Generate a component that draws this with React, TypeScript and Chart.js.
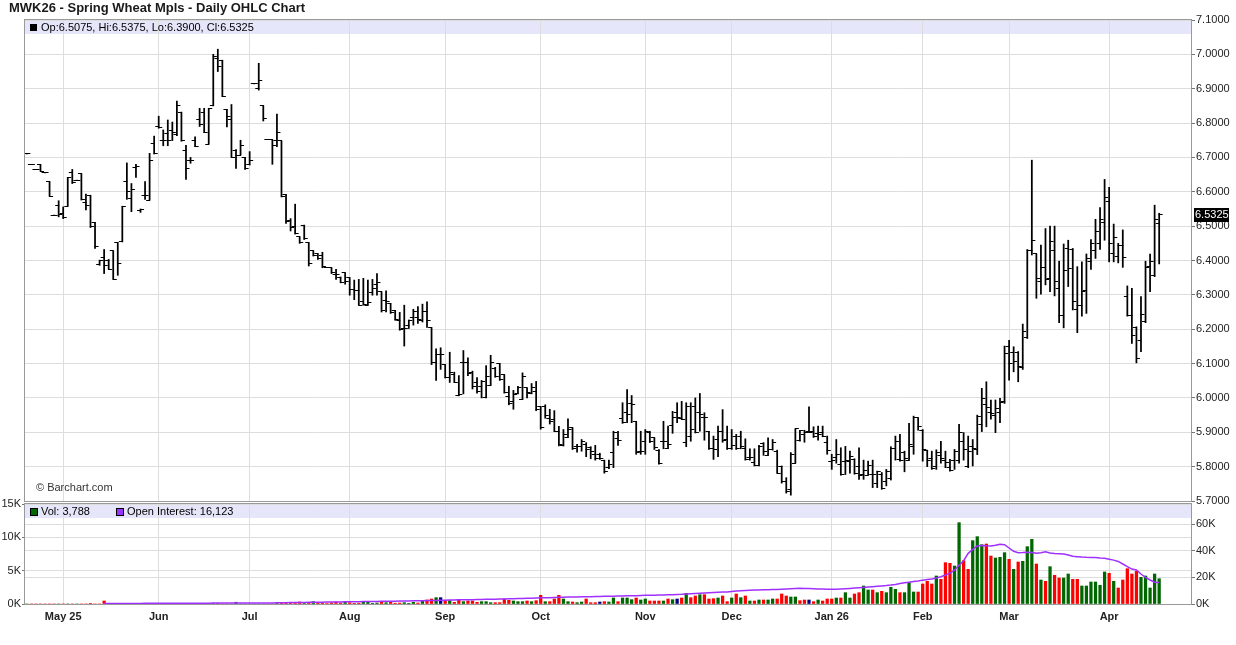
import React, { useEffect, useRef } from 'react';
import { Chart, registerables } from 'chart.js';

Chart.register(...registerables);

const FONT = '"Liberation Sans", Arial, Helvetica, sans-serif';
const TITLE = 'MWK26 - Spring Wheat Mpls - Daily OHLC Chart';

// x = trading-day index; month gridlines / labels
const monthIdx = [8, 29, 49, 71, 92, 113, 136, 155, 177, 197, 216, 238];
const monthLabels = ['May 25', 'Jun', 'Jul', 'Aug', 'Sep', 'Oct', 'Nov', 'Dec', 'Jan 26', 'Feb', 'Mar', 'Apr'];

const priceTickValues = [5.7, 5.8, 5.9, 6.0, 6.1, 6.2, 6.3, 6.4, 6.5, 6.6, 6.7, 6.8, 6.9, 7.0, 7.1];
const volTickValues = [0, 5000, 10000, 15000];
const oiTickValues = [0, 20000, 40000, 60000];

const opens = [
  6.71, 6.68, 6.665, 6.68, 6.655, 6.63, 6.532, 6.56, 6.537, 6.558,
  6.655, 6.634, 6.653, 6.568, 6.59, 6.51, 6.388, 6.41, 6.40, 6.428,
  6.452, 6.454, 6.63, 6.58, 6.67, 6.545, 6.59, 6.576, 6.74, 6.79,
  6.748, 6.77, 6.777, 6.767, 6.832, 6.72, 6.692, 6.748, 6.81, 6.83,
  6.739, 6.85, 6.988, 6.983, 6.84, 6.81, 6.72, 6.707, 6.70, 6.678,
  6.914, 6.90, 6.851, 6.752, 6.752, 6.75, 6.748, 6.592, 6.517, 6.50,
  6.469, 6.503, 6.452, 6.428, 6.42, 6.415, 6.38, 6.379, 6.36, 6.35,
  6.364, 6.35, 6.316, 6.312, 6.28, 6.27, 6.308, 6.33, 6.309, 6.284,
  6.275, 6.255, 6.224, 6.202, 6.21, 6.234, 6.234, 6.224, 6.253, 6.205,
  6.104, 6.127, 6.097, 6.06, 6.068, 6.006, 6.104, 6.104, 6.075, 6.045,
  6.034, 6.0, 6.036, 6.087, 6.1, 6.067, 6.005, 5.99, 6.012, 5.995,
  6.029, 6.014, 6.019, 5.975, 5.975, 5.941, 5.937, 5.902, 5.862, 5.884,
  5.913, 5.86, 5.86, 5.865, 5.855, 5.836, 5.836, 5.819, 5.797, 5.84,
  5.881, 5.939, 5.958, 5.985, 5.932, 5.845, 5.872, 5.90, 5.884, 5.848,
  5.874, 5.853, 5.92, 5.957, 5.939, 5.871, 5.889, 5.974, 5.957, 5.942,
  5.903, 5.852, 5.88, 5.903, 5.879, 5.852, 5.889, 5.889, 5.852, 5.826,
  5.811, 5.804, 5.868, 5.833, 5.85, 5.845, 5.80, 5.758, 5.734, 5.81,
  5.877, 5.894, 5.903, 5.903, 5.897, 5.90, 5.87, 5.816, 5.826, 5.807,
  5.816, 5.816, 5.821, 5.80, 5.778, 5.775, 5.778, 5.75, 5.778, 5.756,
  5.765, 5.852, 5.82, 5.84, 5.819, 5.86, 5.942, 5.906, 5.848, 5.823,
  5.80, 5.833, 5.819, 5.797, 5.819, 5.819, 5.874, 5.80, 5.86, 5.85,
  5.924, 5.982, 5.957, 5.95, 5.957, 5.99, 6.149, 6.132, 6.132, 6.089,
  6.176, 6.43, 6.419, 6.338, 6.38, 6.348, 6.43, 6.319, 6.241, 6.435,
  6.432, 6.258, 6.27, 6.312, 6.396, 6.43, 6.45, 6.51, 6.571, 6.419,
  6.413, 6.445, 6.295, 6.241, 6.205, 6.168, 6.222, 6.382, 6.355, 6.5075,
];

const highs = [
  6.71, 6.68, 6.665, 6.68, 6.655, 6.63, 6.532, 6.574, 6.556, 6.642,
  6.665, 6.634, 6.653, 6.593, 6.59, 6.511, 6.401, 6.432, 6.403, 6.428,
  6.452, 6.558, 6.684, 6.624, 6.68, 6.55, 6.63, 6.712, 6.762, 6.82,
  6.78, 6.809, 6.803, 6.864, 6.832, 6.735, 6.70, 6.76, 6.843, 6.843,
  6.843, 7.0, 7.015, 6.983, 6.84, 6.854, 6.723, 6.75, 6.70, 6.717,
  6.914, 6.974, 6.851, 6.752, 6.752, 6.826, 6.748, 6.592, 6.522, 6.564,
  6.469, 6.503, 6.452, 6.428, 6.42, 6.424, 6.38, 6.379, 6.374, 6.352,
  6.364, 6.35, 6.343, 6.345, 6.348, 6.343, 6.345, 6.362, 6.309, 6.312,
  6.275, 6.255, 6.249, 6.27, 6.227, 6.258, 6.266, 6.273, 6.28, 6.205,
  6.143, 6.146, 6.097, 6.133, 6.075, 6.065, 6.138, 6.117, 6.078, 6.059,
  6.051, 6.094, 6.124, 6.089, 6.1, 6.067, 6.034, 6.022, 6.034, 6.073,
  6.029, 6.042, 6.048, 5.975, 5.98, 5.967, 5.963, 5.917, 5.908, 5.939,
  5.913, 5.865, 5.879, 5.87, 5.858, 5.862, 5.839, 5.819, 5.819, 5.903,
  5.903, 5.986, 6.024, 6.007, 5.932, 5.903, 5.908, 5.903, 5.884, 5.85,
  5.932, 5.918, 5.961, 5.986, 5.99, 5.986, 5.986, 6.0, 6.013, 5.957,
  5.903, 5.889, 5.918, 5.966, 5.918, 5.908, 5.894, 5.903, 5.881, 5.852,
  5.852, 5.862, 5.87, 5.884, 5.879, 5.848, 5.802, 5.768, 5.841, 5.91,
  5.906, 5.906, 5.974, 5.916, 5.918, 5.918, 5.889, 5.836, 5.879, 5.855,
  5.859, 5.845, 5.823, 5.855, 5.819, 5.816, 5.819, 5.787, 5.783, 5.792,
  5.858, 5.889, 5.894, 5.845, 5.926, 5.947, 5.942, 5.908, 5.848, 5.845,
  5.849, 5.874, 5.845, 5.821, 5.85, 5.923, 5.899, 5.889, 5.879, 5.95,
  6.028, 6.047, 5.994, 5.994, 5.999, 6.151, 6.168, 6.149, 6.135, 6.215,
  6.432, 6.692, 6.419, 6.445, 6.493, 6.5, 6.5, 6.398, 6.448, 6.459,
  6.435, 6.382, 6.396, 6.419, 6.461, 6.52, 6.554, 6.636, 6.613, 6.506,
  6.45, 6.489, 6.326, 6.319, 6.207, 6.295, 6.398, 6.419, 6.561, 6.5375,
];

const lows = [
  6.71, 6.68, 6.665, 6.66, 6.655, 6.587, 6.532, 6.527, 6.522, 6.558,
  6.624, 6.634, 6.576, 6.547, 6.496, 6.435, 6.386, 6.362, 6.374, 6.345,
  6.357, 6.454, 6.578, 6.542, 6.642, 6.54, 6.578, 6.576, 6.71, 6.785,
  6.734, 6.734, 6.749, 6.763, 6.747, 6.636, 6.683, 6.731, 6.79, 6.772,
  6.739, 6.85, 6.95, 6.877, 6.789, 6.70, 6.668, 6.707, 6.665, 6.678,
  6.914, 6.896, 6.806, 6.752, 6.68, 6.731, 6.585, 6.508, 6.486, 6.477,
  6.45, 6.461, 6.384, 6.413, 6.403, 6.379, 6.38, 6.362, 6.345, 6.335,
  6.331, 6.299, 6.286, 6.27, 6.27, 6.27, 6.299, 6.299, 6.25, 6.25,
  6.246, 6.226, 6.197, 6.151, 6.202, 6.212, 6.217, 6.221, 6.205, 6.097,
  6.051, 6.083, 6.058, 6.045, 6.045, 6.006, 6.012, 6.065, 6.026, 6.014,
  6.0, 6.0, 6.036, 6.06, 6.051, 6.014, 5.98, 5.967, 6.012, 5.995,
  6.0, 6.012, 5.963, 5.909, 5.941, 5.924, 5.902, 5.86, 5.86, 5.884,
  5.85, 5.842, 5.845, 5.829, 5.823, 5.819, 5.821, 5.781, 5.794, 5.797,
  5.862, 5.926, 5.928, 5.928, 5.836, 5.836, 5.836, 5.87, 5.85, 5.807,
  5.852, 5.852, 5.897, 5.928, 5.937, 5.858, 5.874, 5.898, 5.903, 5.877,
  5.85, 5.821, 5.829, 5.871, 5.85, 5.85, 5.85, 5.852, 5.819, 5.819,
  5.802, 5.802, 5.833, 5.833, 5.848, 5.781, 5.752, 5.723, 5.717, 5.81,
  5.874, 5.871, 5.899, 5.885, 5.877, 5.887, 5.836, 5.792, 5.81, 5.775,
  5.777, 5.781, 5.778, 5.763, 5.763, 5.775, 5.739, 5.739, 5.734, 5.744,
  5.761, 5.819, 5.816, 5.785, 5.819, 5.836, 5.906, 5.816, 5.80, 5.792,
  5.792, 5.81, 5.797, 5.787, 5.792, 5.81, 5.819, 5.797, 5.802, 5.835,
  5.902, 5.916, 5.938, 5.899, 5.928, 5.984, 6.052, 6.076, 6.047, 6.083,
  6.173, 6.416, 6.29, 6.302, 6.329, 6.309, 6.297, 6.219, 6.204, 6.324,
  6.256, 6.19, 6.238, 6.246, 6.374, 6.406, 6.432, 6.459, 6.396, 6.396,
  6.393, 6.38, 6.238, 6.159, 6.102, 6.135, 6.219, 6.309, 6.353, 6.39,
];

const closes = [
  6.71, 6.68, 6.665, 6.66, 6.655, 6.587, 6.532, 6.535, 6.525, 6.642,
  6.626, 6.634, 6.578, 6.559, 6.498, 6.44, 6.40, 6.386, 6.375, 6.345,
  6.39, 6.558, 6.60, 6.607, 6.675, 6.547, 6.588, 6.692, 6.71, 6.787,
  6.748, 6.75, 6.772, 6.85, 6.75, 6.669, 6.692, 6.733, 6.795, 6.772,
  6.843, 6.995, 6.966, 6.877, 6.82, 6.70, 6.705, 6.734, 6.668, 6.69,
  6.914, 6.925, 6.813, 6.752, 6.736, 6.774, 6.585, 6.513, 6.496, 6.48,
  6.452, 6.464, 6.391, 6.416, 6.406, 6.383, 6.38, 6.364, 6.359, 6.337,
  6.338, 6.316, 6.312, 6.27, 6.272, 6.277, 6.318, 6.335, 6.255, 6.282,
  6.248, 6.228, 6.20, 6.202, 6.226, 6.253, 6.229, 6.253, 6.226, 6.104,
  6.127, 6.127, 6.06, 6.075, 6.045, 6.011, 6.104, 6.071, 6.034, 6.019,
  6.048, 6.063, 6.104, 6.063, 6.053, 6.016, 5.983, 6.009, 6.03, 6.063,
  6.016, 6.029, 5.966, 5.915, 5.948, 5.931, 5.902, 5.863, 5.894, 5.908,
  5.852, 5.858, 5.874, 5.85, 5.845, 5.823, 5.823, 5.787, 5.807, 5.90,
  5.877, 5.928, 5.952, 5.981, 5.84, 5.845, 5.903, 5.872, 5.855, 5.81,
  5.874, 5.865, 5.942, 5.942, 5.937, 5.974, 5.908, 5.90, 5.952, 5.942,
  5.852, 5.85, 5.903, 5.877, 5.852, 5.862, 5.852, 5.86, 5.821, 5.826,
  5.804, 5.86, 5.845, 5.85, 5.87, 5.781, 5.756, 5.729, 5.836, 5.91,
  5.905, 5.90, 5.90, 5.888, 5.895, 5.889, 5.847, 5.819, 5.835, 5.778,
  5.819, 5.83, 5.781, 5.775, 5.79, 5.804, 5.778, 5.785, 5.736, 5.787,
  5.852, 5.874, 5.818, 5.825, 5.865, 5.942, 5.916, 5.85, 5.819, 5.794,
  5.84, 5.825, 5.813, 5.79, 5.843, 5.90, 5.85, 5.845, 5.852, 5.945,
  5.999, 5.973, 5.955, 5.97, 5.986, 6.128, 6.099, 6.105, 6.091, 6.193,
  6.43, 6.459, 6.348, 6.38, 6.345, 6.455, 6.338, 6.241, 6.372, 6.378,
  6.28, 6.27, 6.311, 6.406, 6.45, 6.484, 6.52, 6.584, 6.45, 6.467,
  6.445, 6.409, 6.241, 6.183, 6.115, 6.244, 6.38, 6.396, 6.518, 6.5325,
];

const volumes = [
  0, 0, 0, 0, 0, 0, 0, 0, 0, 0,
  0, 0, 0, 0, 60, 0, 0, 450, 80, 0,
  0, 0, 100, 80, 0, 0, 70, 0, 90, 0,
  70, 0, 0, 0, 0, 0, 0, 0, 80, 0,
  0, 90, 60, 0, 0, 0, 260, 0, 0, 0,
  0, 0, 0, 0, 0, 60, 150, 100, 220, 100,
  300, 60, 150, 350, 120, 200, 80, 180, 300, 150,
  320, 200, 100, 120, 250, 300, 100, 150, 250, 200,
  300, 120, 150, 200, 100, 250, 150, 400, 600, 750,
  950, 950, 500, 500, 250, 650, 350, 450, 450, 250,
  350, 350, 200, 200, 200, 750, 550, 450, 350, 350,
  450, 350, 500, 1300, 350, 350, 750, 1300, 750, 350,
  300, 200, 300, 750, 200, 200, 300, 350, 300, 900,
  350, 900, 900, 650, 900, 600, 750, 450, 450, 450,
  450, 750, 650, 750, 900, 1600, 950, 1200, 1400, 1400,
  750, 800, 900, 1200, 350, 900, 1500, 950, 1200, 450,
  450, 600, 600, 600, 750, 750, 1500, 1200, 1050, 1050,
  500, 600, 600, 350, 600, 450, 750, 750, 900, 900,
  1700, 900, 1500, 1700, 2700, 2100, 2100, 1700, 1900, 1700,
  2500, 2200, 1700, 1700, 3200, 1800, 1800, 3000, 3400, 3000,
  4200, 3700, 6200, 6100, 5700, 12200, 6500, 5200, 9500, 10100,
  8900, 9000, 7200, 6900, 7000, 7700, 6700, 5200, 6300, 6400,
  8600, 9700, 6000, 3600, 3400, 5600, 4300, 3900, 3900, 4500,
  3700, 3700, 2700, 2700, 3300, 3300, 2800, 4800, 4600, 3400,
  2400, 3600, 5300, 4500, 4900, 4000, 4200, 2400, 4500, 3788,
];

const openInterest = [
  null, null, null, null, null, null, null, null, null, null,
  null, null, null, null, null, null, null, 300, 320, 330,
  340, 360, 400, 430, 440, 450, 480, 490, 520, 530,
  550, 560, 560, 570, 580, 590, 590, 600, 630, 640,
  650, 680, 700, 700, 710, 720, 760, 770, 780, 790,
  800, 810, 820, 830, 840, 860, 920, 980, 1050, 1100,
  1160, 1190, 1240, 1300, 1340, 1380, 1410, 1450, 1520, 1570,
  1630, 1690, 1720, 1760, 1800, 1850, 1880, 1920, 1980, 2030,
  2100, 2140, 2200, 2260, 2310, 2380, 2440, 2500, 2560, 2620,
  2700, 2800, 2900, 3000, 3050, 3120, 3180, 3230, 3280, 3330,
  3400, 3480, 3550, 3620, 3700, 3780, 3880, 3980, 4080, 4180,
  4280, 4380, 4480, 4650, 4720, 4780, 4880, 5020, 5120, 5180,
  5230, 5280, 5380, 5480, 5530, 5580, 5630, 5720, 5780, 5880,
  5930, 6030, 6130, 6180, 6280, 6380, 6480, 6580, 6630, 6680,
  6780, 6880, 6980, 7130, 7280, 7530, 7680, 7880, 8080, 8280,
  8430, 8580, 8730, 8930, 9030, 9380, 9680, 9930, 10180, 10330,
  10430, 10530, 10630, 10730, 10830, 10930, 11080, 11280, 11430, 11580,
  11750, 11650, 11550, 11400, 11300, 11200, 11100, 11050, 11150, 11300,
  11500, 11700, 11950, 12200, 12450, 12700, 12950, 13250, 13500, 13800,
  14200, 14700, 15300, 15900, 16400, 16900, 17300, 17900, 18400, 18750,
  19500, 20500, 21700, 23200, 25400, 29000, 32500, 38000, 41000, 43500,
  43800, 43600, 43500, 44000, 44800, 44500, 42000, 39500, 38500, 38600,
  38800, 38700, 38000, 38500, 39200, 38200, 37900, 37700, 37500, 36800,
  35800, 35500, 35200, 35000, 34900, 34800, 34500, 34300, 33600, 32900,
  31900, 30000, 28000, 26200, 25500, 22500, 20000, 18000, 16300, 16123,
];

const X_MIN = -0.4;
const X_MAX = 256;

function makeTick(side: 'left' | 'right') {
  const c = document.createElement('canvas');
  c.width = 9;
  c.height = 1;
  const g = c.getContext('2d')!;
  g.fillStyle = '#000';
  if (side === 'left') g.fillRect(1, 0, 4, 1);
  else g.fillRect(4, 0, 4, 1);
  return c;
}

function xScale(showLabels: boolean, height: number) {
  return {
    type: 'linear',
    min: X_MIN,
    max: X_MAX,
    offset: false,
    afterBuildTicks: (s: any) => {
      s.ticks = monthIdx.map((v) => ({ value: v }));
    },
    ticks: {
      display: showLabels,
      autoSkip: false,
      maxRotation: 0,
      padding: 6,
      color: '#222',
      font: { family: FONT, size: 11, weight: 'bold' },
      callback: (v: any) => {
        const k = monthIdx.indexOf(Number(v));
        return k >= 0 ? monthLabels[k] : '';
      },
    },
    grid: { color: '#dddddd', drawTicks: false, offset: false },
    border: { display: false },
    afterFit: (s: any) => {
      s.height = height;
    },
  };
}

export default function App() {
  const mainRef = useRef<HTMLCanvasElement>(null);
  const volRef = useRef<HTMLCanvasElement>(null);

  useEffect(() => {
    Chart.defaults.font.family = FONT;
    const last = closes.length - 1;
    const openImg = makeTick('left');
    const closeImg = makeTick('right');

    const mainDecor = {
      id: 'mainDecor',
      beforeDraw(chart: any) {
        const { ctx, chartArea: a } = chart;
        ctx.save();
        ctx.fillStyle = '#e6e6fa';
        ctx.fillRect(a.left, a.top, a.right - a.left, 14);
        ctx.restore();
      },
      afterDraw(chart: any) {
        const { ctx, chartArea: a } = chart;
        ctx.save();
        ctx.strokeStyle = '#999';
        ctx.lineWidth = 1;
        ctx.strokeRect(a.left - 0.5, a.top - 0.5, a.right - a.left + 1, a.bottom - a.top + 1);
        ctx.textBaseline = 'middle';
        ctx.textAlign = 'left';
        ctx.fillStyle = '#1a1a1a';
        ctx.font = `bold 13px ${FONT}`;
        ctx.fillText(TITLE, 9, 8);
        ctx.fillStyle = '#000';
        ctx.fillRect(30, 24, 7, 7);
        ctx.font = `11px ${FONT}`;
        const leg = `Op:${opens[last].toFixed(4)}, Hi:${highs[last].toFixed(4)}, Lo:${lows[last].toFixed(4)}, Cl:${closes[last].toFixed(4)}`;
        ctx.fillText(leg, 41, 28);
        ctx.fillStyle = '#333';
        ctx.fillText('\u00A9 Barchart.com', 36, 488);
        const y = chart.scales.y.getPixelForValue(closes[last]);
        ctx.fillStyle = '#000';
        ctx.fillRect(a.right + 3, Math.round(y) - 7, 35, 14);
        ctx.fillStyle = '#fff';
        ctx.fillText(closes[last].toFixed(4), a.right + 4, Math.round(y));
        ctx.restore();
      },
    };

    const volDecor = {
      id: 'volDecor',
      beforeDraw(chart: any) {
        const { ctx, chartArea: a } = chart;
        ctx.save();
        ctx.fillStyle = '#e6e6fa';
        ctx.fillRect(a.left, a.top + 1, a.right - a.left, 13);
        ctx.restore();
      },
      afterDraw(chart: any) {
        const { ctx, chartArea: a } = chart;
        ctx.save();
        ctx.strokeStyle = '#999';
        ctx.lineWidth = 1;
        ctx.strokeRect(a.left - 0.5, a.top - 0.5, a.right - a.left + 1, a.bottom - a.top + 1);
        ctx.textBaseline = 'middle';
        ctx.textAlign = 'left';
        ctx.font = `11px ${FONT}`;
        const ty = a.top + 8;
        ctx.fillStyle = '#006600';
        ctx.fillRect(30.5, ty - 3.5, 7, 7);
        ctx.strokeStyle = '#000';
        ctx.strokeRect(30.5, ty - 3.5, 7, 7);
        ctx.fillStyle = '#000';
        ctx.fillText(`Vol: ${volumes[last].toLocaleString('en-US')}`, 41, ty);
        ctx.fillStyle = '#9933ff';
        ctx.fillRect(116.5, ty - 3.5, 7, 7);
        ctx.strokeRect(116.5, ty - 3.5, 7, 7);
        ctx.fillStyle = '#000';
        ctx.fillText(`Open Interest: ${(openInterest[last] as number).toLocaleString('en-US')}`, 127, ty);
        ctx.restore();
      },
    };

    const main = new Chart(mainRef.current!, {
      type: 'bar',
      data: {
        datasets: [
          {
            type: 'line',
            data: opens.map((v, i) => ({ x: i, y: v })),
            showLine: false,
            pointStyle: openImg as any,
            pointRadius: 2,
            order: 0,
          } as any,
          {
            type: 'line',
            data: closes.map((v, i) => ({ x: i, y: v })),
            showLine: false,
            pointStyle: closeImg as any,
            pointRadius: 2,
            order: 0,
          } as any,
          {
            type: 'bar',
            data: highs.map((h, i) => ({ x: i, y: [lows[i], h] })),
            backgroundColor: '#000',
            barThickness: 1.1,
            order: 1,
          } as any,
        ],
      },
      options: {
        responsive: false,
        animation: false,
        events: [],
        layout: { padding: { left: 25, top: 20, right: 0, bottom: 0 } },
        plugins: { legend: { display: false }, tooltip: { enabled: false } },
        scales: {
          x: xScale(false, 11) as any,
          y: {
            position: 'right',
            min: 5.7,
            max: 7.1,
            afterBuildTicks: (s: any) => {
              s.ticks = priceTickValues.map((v) => ({ value: v }));
            },
            ticks: {
              color: '#222',
              padding: 1,
              font: { family: FONT, size: 11 },
              callback: (v: any) => Number(v).toFixed(4),
            },
            grid: { color: '#dddddd', tickColor: '#777', tickLength: 4 },
            border: { display: false },
            afterFit: (s: any) => {
              s.width = 45;
            },
          } as any,
        },
      },
      plugins: [mainDecor],
    });

    const volColors = volumes.map((_, i) => {
      if (i === 0) return '#006600';
      if (closes[i] > closes[i - 1]) return '#006600';
      if (closes[i] < closes[i - 1]) return '#ff0000';
      return '#000080';
    });

    const vol = new Chart(volRef.current!, {
      type: 'bar',
      data: {
        datasets: [
          {
            type: 'line',
            data: openInterest.map((v, i) => ({ x: i, y: v })),
            yAxisID: 'yOI',
            borderColor: '#a030ff',
            borderWidth: 1.5,
            pointRadius: 0,
            spanGaps: false,
            order: 0,
          } as any,
          {
            type: 'bar',
            data: volumes.map((v, i) => ({ x: i, y: v })),
            yAxisID: 'yVol',
            backgroundColor: volColors,
            barThickness: 2.6,
            order: 1,
          } as any,
        ],
      },
      options: {
        responsive: false,
        animation: false,
        events: [],
        layout: { padding: { left: 0, top: 14, right: 0, bottom: 0 } },
        plugins: { legend: { display: false }, tooltip: { enabled: false } },
        scales: {
          x: xScale(true, 41) as any,
          yVol: {
            position: 'left',
            min: 0,
            max: 15000,
            afterBuildTicks: (s: any) => {
              s.ticks = volTickValues.map((v) => ({ value: v }));
            },
            ticks: {
              color: '#222',
              padding: 1,
              font: { family: FONT, size: 11 },
              callback: (v: any) => `${Number(v) / 1000}K`,
            },
            grid: { color: '#dddddd', tickColor: '#777', tickLength: 3 },
            border: { display: false },
            afterFit: (s: any) => {
              s.width = 25;
            },
          } as any,
          yOI: {
            position: 'right',
            min: 0,
            max: 75000,
            afterBuildTicks: (s: any) => {
              s.ticks = oiTickValues.map((v) => ({ value: v }));
            },
            ticks: {
              color: '#222',
              padding: 1,
              font: { family: FONT, size: 11 },
              callback: (v: any) => `${Number(v) / 1000}K`,
            },
            grid: { color: '#dddddd', tickColor: '#777', tickLength: 4 },
            border: { display: false },
            afterFit: (s: any) => {
              s.width = 45;
            },
          } as any,
        },
      },
      plugins: [volDecor],
    });

    return () => {
      main.destroy();
      vol.destroy();
    };
  }, []);

  return (
    <div style={{ position: 'fixed', left: 0, top: 0, width: 1236, height: 645, background: '#fff' }}>
      <canvas
        ref={mainRef}
        width={1236}
        height={512}
        style={{ position: 'absolute', left: 0, top: 0, width: 1236, height: 512 }}
      />
      <canvas
        ref={volRef}
        width={1236}
        height={155}
        style={{ position: 'absolute', left: 0, top: 490, width: 1236, height: 155 }}
      />
    </div>
  );
}
